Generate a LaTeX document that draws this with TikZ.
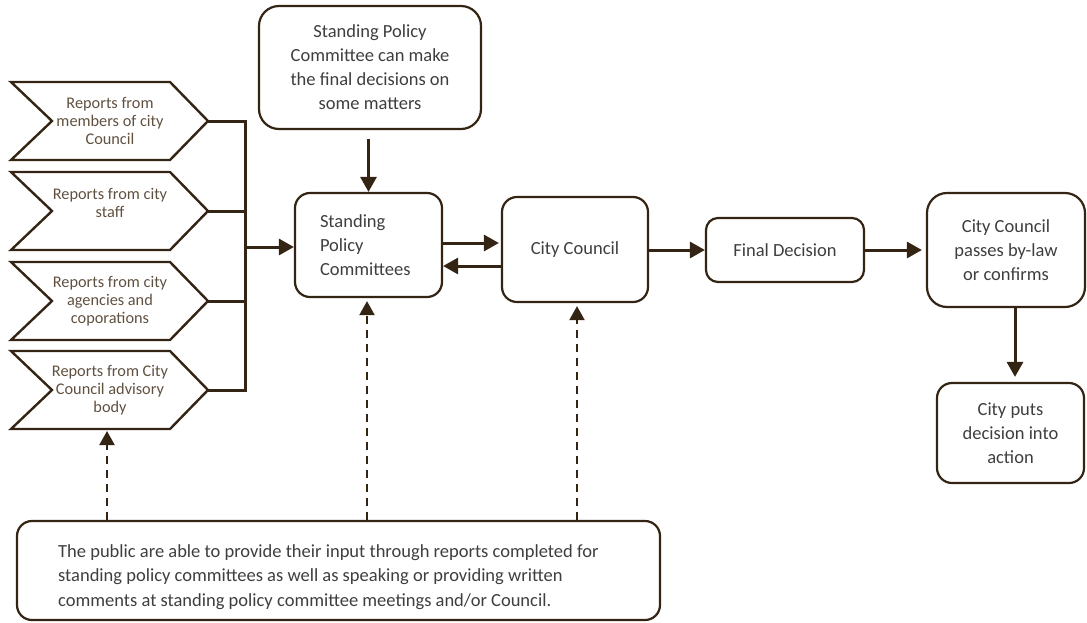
\documentclass[tikz,border=0pt]{standalone}
\usepackage{fontspec}
\setmainfont{Carlito}
\usetikzlibrary{arrows.meta}
\definecolor{ln}{RGB}{52,36,20}
\definecolor{tx}{RGB}{62,62,62}
\definecolor{ctx}{RGB}{96,80,64}
\begin{document}
\begin{tikzpicture}[x=1pt,y=-1pt,
  box/.style={draw=ln, line width=2.2pt, rounded corners=#1, text=tx, align=center, inner sep=0pt,
    font=\fontsize{18.5}{24}\selectfont},
  ctext/.style={text=ctx, align=center, inner sep=0pt, font=\fontsize{16.3}{18}\selectfont},
  chevline/.style={draw=ln, line width=2.4pt, line join=miter},
  conn/.style={draw=ln, line width=3pt},
  arr/.style={draw=ln, line width=3pt, -{Triangle[length=15pt,width=16pt]}},
  darr/.style={draw=ln, line width=2pt, dash pattern=on 8pt off 6pt, -{Triangle[length=14pt,width=15pt]}},
  chev/.pic={
    \draw[chevline] (-99,-39) -- (60,-39) -- (98,0) -- (60,39) -- (-99,39) -- (-58,0) -- cycle;
    \coordinate (-tip) at (98,0);
    \coordinate (-bot) at (-3,39);
  }
]
\useasboundingbox (0,0) rectangle (1087,622);

% chevrons
\pic (c1) at (110,121) {chev};
\pic (c2) at (110,211) {chev};
\pic (c3) at (110,301) {chev};
\pic (c4) at (110,390) {chev};
\node[ctext] (r1) at (110,121) {Reports from\\members of city\\Council};
\node[ctext] (r2) at (110,203) {Reports from city\\staff};
\node[ctext] (r3) at (110,301) {Reports from city\\agencies and\\coporations};
\node[ctext] (r4) at (110,390) {Reports from City\\Council advisory\\body};

% boxes
\node[box=20pt, minimum width=222pt, minimum height=123pt] (top) at (370,67.5)
  {Standing Policy\\Committee can make\\the final decisions on\\some matters};
\node[box=15pt, minimum width=147pt, minimum height=104pt, text width=97pt, align=left] (spc) at (368.5,245)
  {Standing\\Policy\\Committees};
\node[box=15pt, minimum width=146pt, minimum height=105pt] (cc) at (575,249.5) {City Council};
\node[box=12pt, minimum width=158pt, minimum height=64pt] (fd) at (785,250) {Final Decision};
\node[box=20pt, minimum width=158pt, minimum height=114pt] (ccp) at (1006,250)
  {City Council\\passes by-law\\or confirms};
\node[box=15pt, minimum width=147pt, minimum height=100pt] (cpa) at (1010.5,433)
  {City puts\\decision into\\action};
\node[box=15pt, minimum width=643pt, minimum height=99pt] (pub) at (338.5,570.5) {};
\node[text=tx, align=left, inner sep=0pt, anchor=west, font=\fontsize{18.5}{24.5}\selectfont] (pubtxt) at (58,577)
  {The public are able to provide their input through reports completed for\\
   standing policy committees as well as speaking or providing written\\
   comments at standing policy committee meetings and/or Council.};

% bus
\coordinate (b1) at (245,121);
\coordinate (b2) at (245,211);
\coordinate (b3) at (245,301);
\coordinate (b4) at (245,390);
\coordinate (bm) at (245,247);
\draw[conn] (c1-tip) -- (b1) -- (b4) -- (c4-tip);
\draw[conn] (c2-tip) -- (b2);
\draw[conn] (c3-tip) -- (b3);
\draw[arr] (bm) -- (spc.west |- bm);

% flow arrows
\coordinate (y243) at (0,243);
\coordinate (y266) at (0,266);
\draw[arr] ([yshift=-9pt]top.south -| spc.north) -- (spc.north);
\draw[arr] (spc.east |- y243) -- ([xshift=-2pt]cc.west |- y243);
\draw[arr] (cc.west |- y266) -- (spc.east |- y266);
\draw[arr] (cc.east |- fd.west) -- (fd.west);
\draw[arr] (fd.east) -- ([xshift=-4pt]ccp.west);
\coordinate (x1015) at (1015,0);
\draw[arr] (ccp.south -| x1015) -- ([yshift=5pt]cpa.north -| x1015);

% dashed input arrows
\coordinate (x107) at (107,0);
\coordinate (x367) at (367,0);
\coordinate (x577) at (577,0);
\draw[darr] (pub.north -| x107) -- ([yshift=-2pt]c4-bot -| x107);
\draw[darr] (pub.north -| x367) -- ([yshift=-3pt]spc.south -| x367);
\draw[darr] (pub.north -| x577) -- ([yshift=-3pt]cc.south -| x577);
\end{tikzpicture}
\end{document}
